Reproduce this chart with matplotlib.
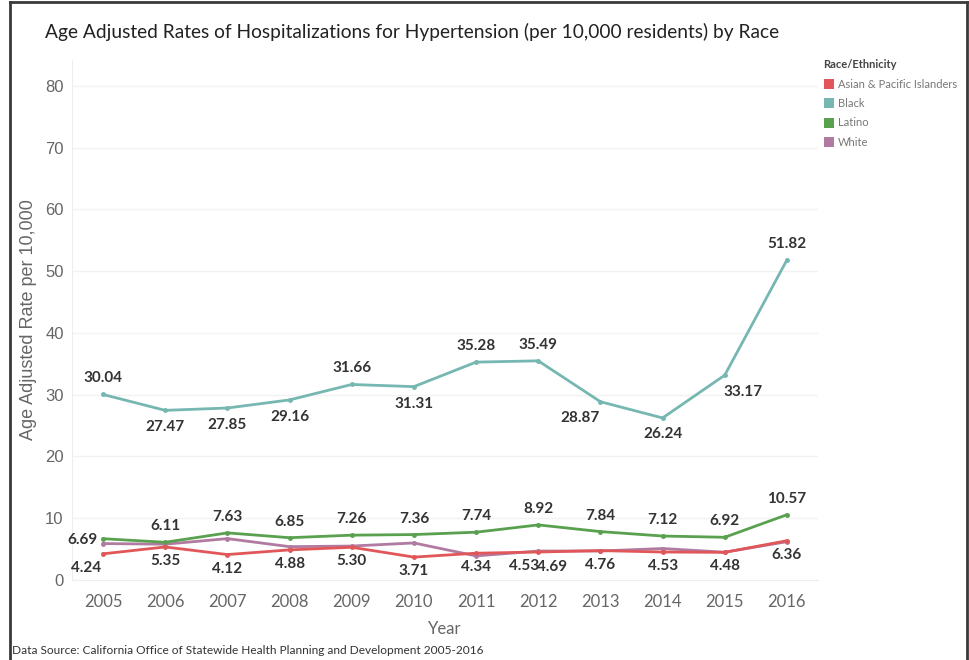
import matplotlib.pyplot as plt
from matplotlib.lines import Line2D
from matplotlib.patches import Patch

plt.rcParams['font.family'] = ['Lato', 'DejaVu Sans']

years = [2005, 2006, 2007, 2008, 2009, 2010, 2011, 2012, 2013, 2014, 2015, 2016]
asian = [4.24, 5.35, 4.12, 4.88, 5.30, 3.71, 4.34, 4.53, 4.76, 4.53, 4.48, 6.36]
black = [30.04, 27.47, 27.85, 29.16, 31.66, 31.31, 35.28, 35.49, 28.87, 26.24, 33.17, 51.82]
latino = [6.69, 6.11, 7.63, 6.85, 7.26, 7.36, 7.74, 8.92, 7.84, 7.12, 6.92, 10.57]
white = [5.9, 5.8, 6.7, 5.4, 5.5, 6.0, 3.9, 4.69, 4.7, 5.1, 4.5, 6.2]

races = ["Asian & Pacific Islanders", "Black", "Latino", "White"]
colors = {"Asian & Pacific Islanders": "#e15759", "Black": "#76b7b2",
          "Latino": "#59a14f", "White": "#b07aa1"}

# label offsets (pixels) for the black series
black_off = [(0, 16), (0, -17), (0, -17), (0, -17), (0, 16), (0, -17),
             (0, 16), (0, 16), (-20, -16), (0, -16), (18, -17), (0, 16)]

fig = plt.figure(figsize=(9.7, 6.6), dpi=100)
ax = fig.add_axes([0.0742, 0.1212, 0.7691, 0.7879])

grey = "#666666"
lab = dict(fontsize=11, fontweight="bold", color="#333333", ha="center",
           va="center", textcoords="offset pixels")

# white drawn first so the asian line sits on top where they overlap
ax.plot(years, white, color=colors["White"], lw=2, marker="o", ms=2.5, zorder=3)
ax.plot(years, asian, color=colors["Asian & Pacific Islanders"], lw=2, marker="o", ms=2.5, zorder=4)
ax.plot(years, latino, color=colors["Latino"], lw=2, marker="o", ms=2.5, zorder=4)
ax.plot(years, black, color=colors["Black"], lw=2, marker="o", ms=2.5, zorder=4)

for x, v, off in zip(years, black, black_off):
    ax.annotate(f"{v:.2f}", (x, v), xytext=off, **lab)

for i, (x, v) in enumerate(zip(years, latino)):
    off = (-21, -1) if i == 0 else (0, 16)
    ax.annotate(f"{v:.2f}", (x, v), xytext=off, **lab)

for i, (x, v) in enumerate(zip(years, asian)):
    kw = dict(lab)
    dx = -17 if i == 0 else 0
    if years[i] == 2012:
        dx, kw["ha"] = 1, "right"
    ax.annotate(f"{v:.2f}", (x, v), xytext=(dx, -14), **kw)

i12 = years.index(2012)
kw = dict(lab)
kw["ha"] = "left"
ax.annotate(f"{white[i12]:.2f}", (years[i12], white[i12]), xytext=(-1, -16), **kw)

ax.set_xlim(2004.5, 2016.5)
ax.set_ylim(0, 84.2)
ax.set_yticks(range(0, 90, 10))
ax.set_xticks(years)
ax.tick_params(axis="both", length=0, colors=grey)
ax.tick_params(axis="x", labelsize=12, pad=10)
ax.tick_params(axis="y", pad=6)
ax.grid(axis="y", color="#f2f2f2", lw=1)
ax.set_axisbelow(True)
for side in ["top", "right"]:
    ax.spines[side].set_visible(False)
ax.spines["left"].set_color("#ededed")
ax.spines["bottom"].set_color("#ededed")
for t in ax.get_yticklabels():
    t.set_family(["Liberation Sans", "DejaVu Sans"])
    t.set_fontsize(12)

ax.set_xlabel("Year", fontsize=12, color=grey, labelpad=8)
ax.set_ylabel("Age Adjusted Rate per 10,000", fontsize=13, color=grey, labelpad=6,
              family=["Liberation Sans", "DejaVu Sans"])

fig.text(0.046, 0.952, "Age Adjusted Rates of Hospitalizations for Hypertension (per 10,000 residents) by Race",
         fontsize=13.8, color="#222222", va="center")
fig.text(0.012, 0.015, "Data Source: California Office of Statewide Health Planning and Development 2005-2016",
         fontsize=8.6, color="#333333", va="center")

handles = [Patch(facecolor=colors[r], edgecolor="none") for r in races]
leg = fig.legend(handles, races, title="Race/Ethnicity", loc="upper left",
                 bbox_to_anchor=(0.849, 0.91), frameon=False, fontsize=8,
                 title_fontsize=8, alignment="left", handlelength=0.95,
                 handleheight=1.0, handletextpad=0.35, labelspacing=0.75,
                 borderaxespad=0, borderpad=0)
leg.get_title().set_color("#444444")
leg.get_title().set_fontweight("bold")
for t in leg.get_texts():
    t.set_color("#777777")

# dark frame around the sheet
frame = dict(color="#3a3a3a", lw=2, transform=fig.transFigure)
fig.add_artist(Line2D([0.010, 0.010], [0, 0.997], **frame))
fig.add_artist(Line2D([0.010, 0.997], [0.997, 0.997], **frame))
fig.add_artist(Line2D([0.997, 0.997], [0, 0.997], **frame))

fig.savefig("out.png", dpi=100)
